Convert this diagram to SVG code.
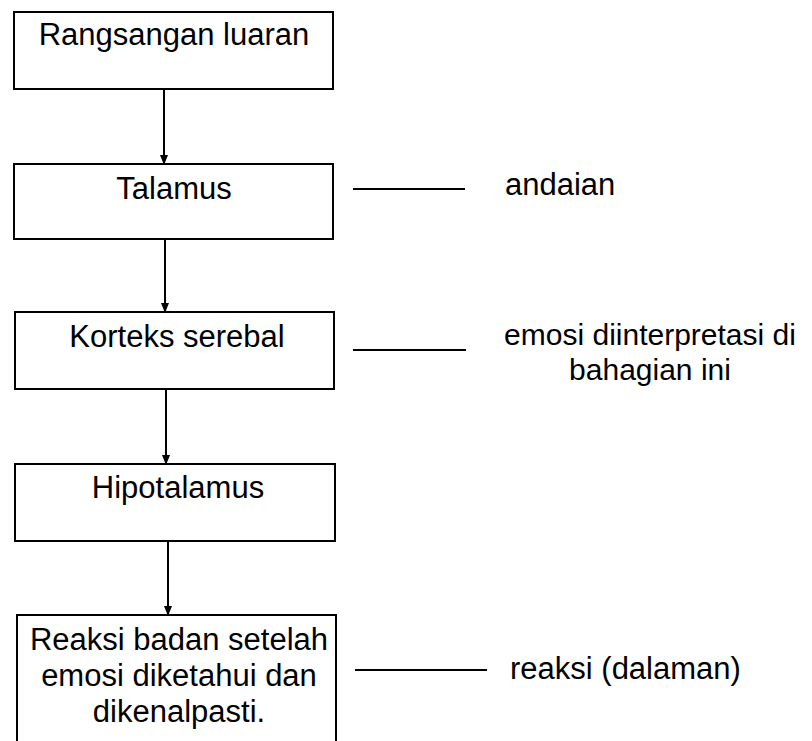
<svg xmlns="http://www.w3.org/2000/svg" width="812" height="741" viewBox="0 0 812 741">
<style>
.box{fill:#fff;stroke:#000;stroke-width:2}
.t{font-family:"Liberation Sans",Arial,sans-serif;font-size:31px;fill:#000}
.s{font-size:30px}
.c{text-anchor:middle}
.ln{stroke:#000;stroke-width:2;fill:none}
</style>
<defs>
<marker id="ah" markerWidth="10" markerHeight="12" refX="8" refY="5" orient="auto" markerUnits="userSpaceOnUse" viewBox="0 0 10 10">
<path d="M0,1 L10,5 L0,9 Z" fill="#000"/>
</marker>
</defs>
<rect width="812" height="741" fill="#fff"/>
<g id="connectors">
<line class="ln" x1="164" y1="89" x2="164" y2="163" marker-end="url(#ah)"/>
<line class="ln" x1="165" y1="239" x2="165" y2="311" marker-end="url(#ah)"/>
<line class="ln" x1="166" y1="389" x2="166" y2="463" marker-end="url(#ah)"/>
<line class="ln" x1="168" y1="541" x2="168" y2="614" marker-end="url(#ah)"/>
<line class="ln" x1="353" y1="189" x2="465" y2="189"/>
<line class="ln" x1="353" y1="350" x2="466" y2="350"/>
<line class="ln" x1="355" y1="670" x2="487" y2="670"/>
</g>
<g id="n1">
<rect class="box" x="14" y="12" width="319" height="77"/>
<text class="t c" x="174" y="45">Rangsangan luaran</text>
</g>
<g id="n2">
<rect class="box" x="14" y="164" width="319" height="75"/>
<text class="t c" x="174" y="199">Talamus</text>
</g>
<g id="n3">
<rect class="box" x="15" y="312" width="319" height="77"/>
<text class="t c" x="177" y="347">Korteks serebal</text>
</g>
<g id="n4">
<rect class="box" x="15" y="464" width="320" height="77"/>
<text class="t c" x="178" y="498">Hipotalamus</text>
</g>
<g id="n5">
<rect class="box" x="17" y="615" width="319" height="140"/>
<text class="t c" x="179" y="650">Reaksi badan setelah</text>
<text class="t c" x="179" y="686">emosi diketahui dan</text>
<text class="t c" x="179" y="722">dikenalpasti.</text>
</g>
<g id="l1">
<text class="t" x="505" y="195">andaian</text>
</g>
<g id="l2">
<text class="t s c" x="650" y="345">emosi diinterpretasi di</text>
<text class="t s c" x="650" y="380">bahagian ini</text>
</g>
<g id="l3">
<text class="t" x="510" y="679">reaksi (dalaman)</text>
</g>
</svg>
